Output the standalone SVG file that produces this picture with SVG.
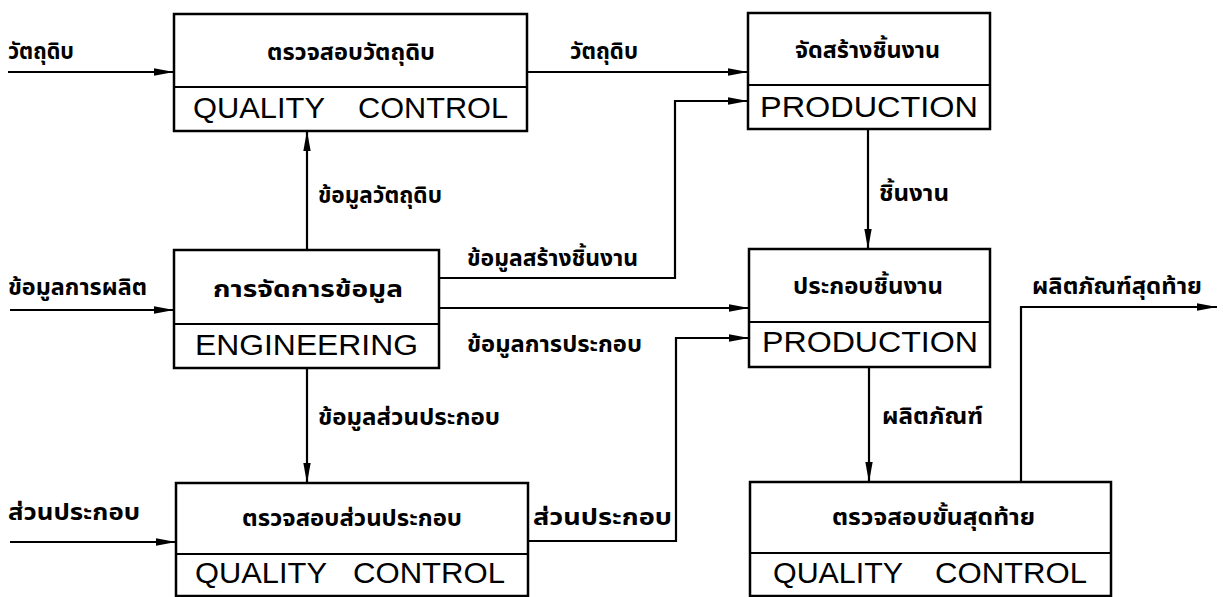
<svg xmlns="http://www.w3.org/2000/svg" width="1223" height="597" viewBox="0 0 1223 597">
  <style>
    .box { fill: #fff; stroke: #000; stroke-width: 2.5; }
    .div { stroke: #000; stroke-width: 2.2; }
    .wire { fill: none; stroke: #000; stroke-width: 2.2; }
    .th { font-family: "Noto Sans Thai", "Noto Sans Thai UI", "Loma", "Garuda", "Tlwg Typo", "DejaVu Sans", sans-serif; font-weight: bold; font-size: 23px; fill: #000; }
    .en { font-family: "Liberation Sans", Arial, sans-serif; font-size: 29px; fill: #000; }
  </style>
  <defs>
    <marker id="arrow" markerUnits="userSpaceOnUse" markerWidth="22" markerHeight="10" refX="20" refY="4" orient="auto">
      <path d="M0,0.3 L20,4 L0,7.7 z" fill="#000"/>
    </marker>
  </defs>
  <rect width="1223" height="597" fill="#fff"/>

  <!-- connectors -->
  <g id="connectors">
    <path class="wire" d="M8,72 H174" marker-end="url(#arrow)"/>
    <path class="wire" d="M10,310 H174" marker-end="url(#arrow)"/>
    <path class="wire" d="M10,542 H176" marker-end="url(#arrow)"/>
    <path class="wire" d="M527,72 H748" marker-end="url(#arrow)"/>
    <path class="wire" d="M439,278 H675 V101 H748" marker-end="url(#arrow)"/>
    <path class="wire" d="M439,308 H749" marker-end="url(#arrow)"/>
    <path class="wire" d="M528,541 H676 V338 H749" marker-end="url(#arrow)"/>
    <path class="wire" d="M307,250 V131" marker-end="url(#arrow)"/>
    <path class="wire" d="M307,368 V483" marker-end="url(#arrow)"/>
    <path class="wire" d="M868,129 V249" marker-end="url(#arrow)"/>
    <path class="wire" d="M869,367 V482" marker-end="url(#arrow)"/>
    <path class="wire" d="M1021,482 V307 H1217" marker-end="url(#arrow)"/>

    <text class="th" x="8" y="59" textLength="66" lengthAdjust="spacingAndGlyphs">วัตถุดิบ</text>
    <text class="th" x="570" y="59" textLength="68" lengthAdjust="spacingAndGlyphs">วัตถุดิบ</text>
    <text class="th" x="318" y="203" textLength="124" lengthAdjust="spacingAndGlyphs">ข้อมูลวัตถุดิบ</text>
    <text class="th" x="879" y="201" textLength="70" lengthAdjust="spacingAndGlyphs">ชิ้นงาน</text>
    <text class="th" x="8" y="295" textLength="139" lengthAdjust="spacingAndGlyphs">ข้อมูลการผลิต</text>
    <text class="th" x="467" y="266" textLength="171" lengthAdjust="spacingAndGlyphs">ข้อมูลสร้างชิ้นงาน</text>
    <text class="th" x="1032" y="294" textLength="170" lengthAdjust="spacingAndGlyphs">ผลิตภัณฑ์สุดท้าย</text>
    <text class="th" x="467" y="352" textLength="175" lengthAdjust="spacingAndGlyphs">ข้อมูลการประกอบ</text>
    <text class="th" x="318" y="425" textLength="182" lengthAdjust="spacingAndGlyphs">ข้อมูลส่วนประกอบ</text>
    <text class="th" x="882" y="424" textLength="101" lengthAdjust="spacingAndGlyphs">ผลิตภัณฑ์</text>
    <text class="th" x="8" y="520" textLength="132" lengthAdjust="spacingAndGlyphs">ส่วนประกอบ</text>
    <text class="th" x="533" y="525" textLength="139" lengthAdjust="spacingAndGlyphs">ส่วนประกอบ</text>
  </g>

  <!-- raw material inspection -->
  <g id="qc-raw">
    <rect class="box" x="174" y="14" width="353" height="117"/>
    <line class="div" x1="174" y1="87" x2="527" y2="87"/>
    <text class="th" x="267" y="60" textLength="168" lengthAdjust="spacingAndGlyphs">ตรวจสอบวัตถุดิบ</text>
    <text class="en" x="193" y="118" textLength="132" lengthAdjust="spacingAndGlyphs">QUALITY</text>
    <text class="en" x="358" y="118" textLength="150" lengthAdjust="spacingAndGlyphs">CONTROL</text>
  </g>

  <!-- part fabrication -->
  <g id="prod-build">
    <rect class="box" x="748" y="13" width="242" height="116"/>
    <line class="div" x1="748" y1="85" x2="990" y2="85"/>
    <text class="th" x="795" y="58" textLength="145" lengthAdjust="spacingAndGlyphs">จัดสร้างชิ้นงาน</text>
    <text class="en" x="760" y="117" textLength="218" lengthAdjust="spacingAndGlyphs">PRODUCTION</text>
  </g>

  <!-- data management -->
  <g id="engineering">
    <rect class="box" x="174" y="250" width="265" height="118"/>
    <line class="div" x1="174" y1="324" x2="439" y2="324"/>
    <text class="th" x="213" y="297" textLength="190" lengthAdjust="spacingAndGlyphs">การจัดการข้อมูล</text>
    <text class="en" x="195" y="355" textLength="223" lengthAdjust="spacingAndGlyphs">ENGINEERING</text>
  </g>

  <!-- assembly -->
  <g id="prod-assembly">
    <rect class="box" x="749" y="249" width="241" height="118"/>
    <line class="div" x1="749" y1="322" x2="990" y2="322"/>
    <text class="th" x="793" y="294" textLength="150" lengthAdjust="spacingAndGlyphs">ประกอบชิ้นงาน</text>
    <text class="en" x="762" y="352" textLength="216" lengthAdjust="spacingAndGlyphs">PRODUCTION</text>
  </g>

  <!-- component inspection -->
  <g id="qc-parts">
    <rect class="box" x="176" y="483" width="352" height="113"/>
    <line class="div" x1="176" y1="554" x2="528" y2="554"/>
    <text class="th" x="242" y="526" textLength="220" lengthAdjust="spacingAndGlyphs">ตรวจสอบส่วนประกอบ</text>
    <text class="en" x="195" y="583" textLength="132" lengthAdjust="spacingAndGlyphs">QUALITY</text>
    <text class="en" x="353" y="583" textLength="152" lengthAdjust="spacingAndGlyphs">CONTROL</text>
  </g>

  <!-- final inspection -->
  <g id="qc-final">
    <rect class="box" x="750" y="482" width="361" height="114"/>
    <line class="div" x1="750" y1="553" x2="1111" y2="553"/>
    <text class="th" x="832" y="525" textLength="203" lengthAdjust="spacingAndGlyphs">ตรวจสอบขั้นสุดท้าย</text>
    <text class="en" x="773" y="583" textLength="130" lengthAdjust="spacingAndGlyphs">QUALITY</text>
    <text class="en" x="935" y="583" textLength="152" lengthAdjust="spacingAndGlyphs">CONTROL</text>
  </g>
</svg>
